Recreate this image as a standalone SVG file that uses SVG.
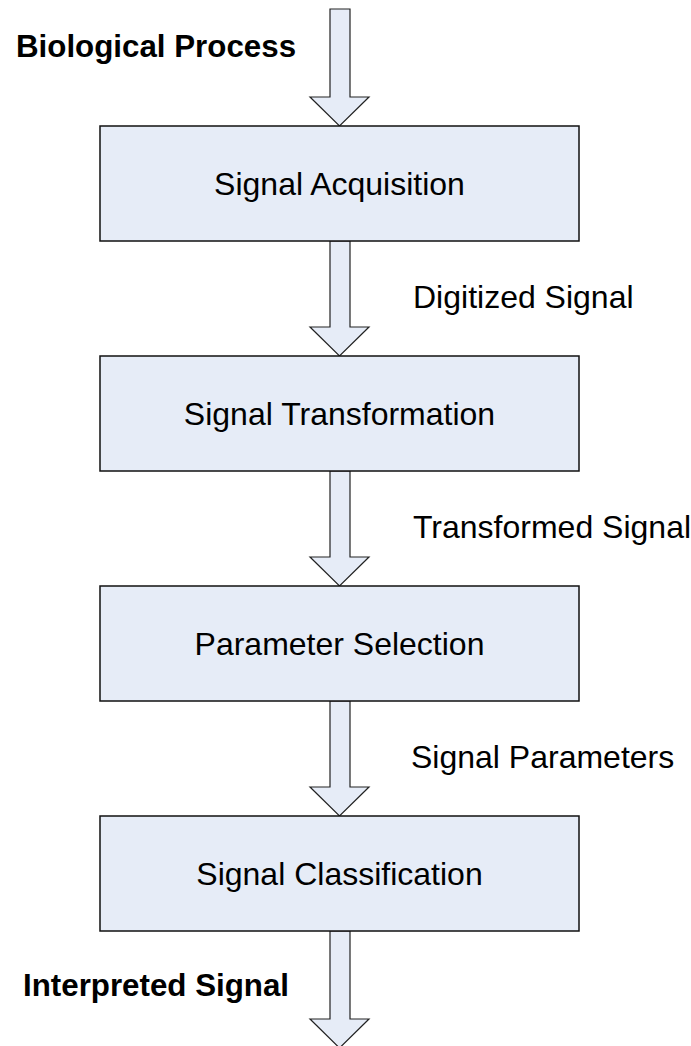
<svg xmlns="http://www.w3.org/2000/svg" width="691" height="1046" viewBox="0 0 691 1046">
<style>
.box{fill:#E6ECF7;stroke:#111;stroke-width:1.5}
.arr{fill:#E6ECF7;stroke:#222;stroke-width:1.2;stroke-linejoin:miter}
.lbl{font-family:"Liberation Sans",Arial,sans-serif;font-size:32px;fill:#000;text-anchor:middle}
.el{font-family:"Liberation Sans",Arial,sans-serif;font-size:32px;fill:#000}
.bl{font-family:"Liberation Sans",Arial,sans-serif;font-size:31.3px;font-weight:bold;fill:#000}
</style>
<rect width="691" height="1046" fill="#fff"/>
<g id="connectors">
<path class="arr" d="M330,9 H350 V97 H369 L339.5,126 L310,97 H330 Z"/>
<path class="arr" d="M330,241 H350 V327 H369 L339.5,356 L310,327 H330 Z"/>
<path class="arr" d="M330,471 H350 V557 H369 L339.5,586 L310,557 H330 Z"/>
<path class="arr" d="M330,701 H350 V787 H369 L339.5,816 L310,787 H330 Z"/>
<path class="arr" d="M330,931 H350 V1019 H369 L339.5,1048 L310,1019 H330 Z"/>
<text class="bl" x="16" y="57">Biological Process</text>
<text class="el" x="413" y="308">Digitized Signal</text>
<text class="el" x="413" y="538">Transformed Signal</text>
<text class="el" x="411" y="768">Signal Parameters</text>
<text class="bl" x="23" y="996">Interpreted Signal</text>
</g>
<g id="n1"><rect class="box" x="100" y="126" width="479" height="115"/><text class="lbl" x="339.5" y="195">Signal Acquisition</text></g>
<g id="n2"><rect class="box" x="100" y="356" width="479" height="115"/><text class="lbl" x="339.5" y="425">Signal Transformation</text></g>
<g id="n3"><rect class="box" x="100" y="586" width="479" height="115"/><text class="lbl" x="339.5" y="655">Parameter Selection</text></g>
<g id="n4"><rect class="box" x="100" y="816" width="479" height="115"/><text class="lbl" x="339.5" y="885">Signal Classification</text></g>
</svg>
